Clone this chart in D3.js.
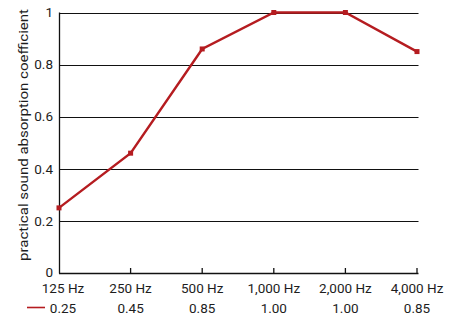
<!DOCTYPE html>
<html><head><meta charset="utf-8">
<script src="https://cdn.jsdelivr.net/npm/d3@7"></script>
<style>
html,body{margin:0;padding:0;background:#fff;}
text{font-family:Roboto,"Liberation Sans",sans-serif;fill:#1d1d1d;}
</style></head>
<body>
<svg id="c" width="453" height="320"></svg>
<script>
const categories = ["125 Hz","250 Hz","500 Hz","1,000 Hz","2,000 Hz","4,000 Hz"];
const values = [0.25, 0.46, 0.86, 1.0, 1.0, 0.85];
const tableLabels = ["0.25","0.45","0.85","1.00","1.00","0.85"];
const yTicks = [0, 0.2, 0.4, 0.6, 0.8, 1];
const yTickLabels = ["0","0.2","0.4","0.6","0.8","1"];
const yTitle = "practical sound absorption coefficient";

const svg = d3.select("#c");
const x = d3.scalePoint().domain(categories).range([59, 417]);
const y = d3.scaleLinear().domain([0, 1]).range([273, 12.5]);
const xEnd = 418.5;
const red = "#b51c20";
const fs = 13.5;
const colX = i => x(categories[i]) + (i === 0 ? 4 : 0);

// gridlines
svg.append("g").selectAll("line").data(yTicks.filter(d => d > 0)).join("line")
  .attr("x1", 59).attr("x2", xEnd)
  .attr("y1", d => Math.round(y(d)) + 0.5).attr("y2", d => Math.round(y(d)) + 0.5)
  .attr("stroke", "#111").attr("stroke-width", 1.2);

// y tick labels
svg.append("g").selectAll("text").data(yTicks).join("text")
  .attr("x", 53).attr("y", d => y(d) + (d === 0 ? 3.8 : 4.7))
  .attr("text-anchor", "end").attr("font-size", fs)
  .text((d, i) => yTickLabels[i]);

// axes lines
svg.append("line").attr("x1", 59.5).attr("x2", 59.5).attr("y1", y(1)).attr("y2", y(0) + 0.5)
  .attr("stroke", "#111").attr("stroke-width", 1.3);
svg.append("line").attr("x1", 59).attr("x2", xEnd).attr("y1", Math.round(y(0)) + 0.5).attr("y2", Math.round(y(0)) + 0.5)
  .attr("stroke", "#111").attr("stroke-width", 1.3);
svg.append("g").selectAll("line").data(categories.slice(1)).join("line")
  .attr("x1", d => x(d)).attr("x2", d => x(d))
  .attr("y1", Math.round(y(0)) + 0.5).attr("y2", Math.round(y(0)) - 5)
  .attr("stroke", "#111").attr("stroke-width", 1.3);

// x labels
svg.append("g").selectAll("text").data(categories).join("text")
  .attr("x", (d, i) => colX(i)).attr("y", 293)
  .attr("text-anchor", "middle").attr("font-size", fs)
  .text(d => d);

// table values
svg.append("g").selectAll("text").data(tableLabels).join("text")
  .attr("x", (d, i) => colX(i)).attr("y", 312.5)
  .attr("text-anchor", "middle").attr("font-size", fs)
  .text(d => d);

// legend swatch
svg.append("line").attr("x1", 27).attr("x2", 45).attr("y1", 307.5).attr("y2", 307.5)
  .attr("stroke", red).attr("stroke-width", 1.6);

// y title
svg.append("text").attr("transform", "translate(28,135) rotate(-90)")
  .attr("text-anchor", "middle").attr("font-size", 13.5)
  .attr("textLength", 252).attr("lengthAdjust", "spacingAndGlyphs")
  .text(yTitle);

// line
const line = d3.line().x((d, i) => x(categories[i])).y(d => y(d));
svg.append("path").datum(values).attr("d", line)
  .attr("fill", "none").attr("stroke", red).attr("stroke-width", 2.4);
svg.append("g").selectAll("rect").data(values).join("rect")
  .attr("x", (d, i) => x(categories[i]) - 2.5).attr("y", d => y(d) - 2.5)
  .attr("width", 5).attr("height", 5).attr("fill", red);
</script>
</body></html>
